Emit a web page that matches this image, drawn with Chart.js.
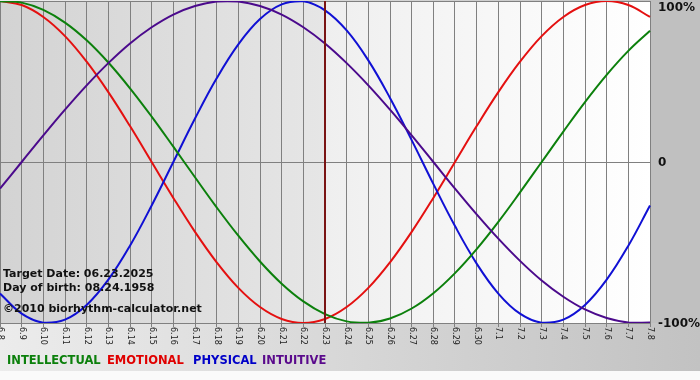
<!DOCTYPE html>
<html>
<head>
<meta charset="utf-8">
<script src="https://cdn.jsdelivr.net/npm/chart.js@4.4.1/dist/chart.umd.min.js"></script>
<style>
  body { margin: 0; background: #fff; }
  canvas { display: block; }
</style>
</head>
<body>
<canvas id="grafico" width="700" height="380"></canvas>
<script>
// Fechas del eje X (mes.día)
const fechas = ['6.8', '6.9', '6.10', '6.11', '6.12', '6.13', '6.14', '6.15', '6.16', '6.17', '6.18',
  '6.19', '6.20', '6.21', '6.22', '6.23', '6.24', '6.25', '6.26', '6.27', '6.28', '6.29', '6.30',
  '7.1', '7.2', '7.3', '7.4', '7.5', '7.6', '7.7', '7.8'];

// Valores (-1 a 1)
const intelectual = [0.999, 0.990, 0.945, 0.866, 0.756, 0.618, 0.458, 0.282, 0.095, -0.095, -0.282,
  -0.458, -0.618, -0.756, -0.866, -0.945, -0.990, -0.999, -0.972, -0.910, -0.815, -0.690, -0.541,
  -0.372, -0.189, 0.000, 0.189, 0.372, 0.541, 0.690, 0.815];
const emocional = [1.000, 0.975, 0.901, 0.782, 0.623, 0.434, 0.223, 0.000, -0.223, -0.434, -0.623,
  -0.782, -0.901, -0.975, -1.000, -0.975, -0.901, -0.782, -0.623, -0.434, -0.223, 0.000, 0.223,
  0.434, 0.623, 0.782, 0.901, 0.975, 1.000, 0.975, 0.901];
const fisico = [-0.817, -0.942, -0.998, -0.979, -0.888, -0.731, -0.520, -0.270, 0.000, 0.270, 0.520,
  0.731, 0.888, 0.979, 0.998, 0.942, 0.817, 0.631, 0.398, 0.136, -0.136, -0.398, -0.631,
  -0.817, -0.942, -0.998, -0.979, -0.888, -0.731, -0.520, -0.270];
const intuitivo = [-0.165, 0.000, 0.165, 0.325, 0.476, 0.614, 0.736, 0.837, 0.916, 0.969, 0.997,
  0.997, 0.969, 0.916, 0.837, 0.736, 0.614, 0.476, 0.325, 0.165, 0.000, -0.165, -0.325,
  -0.476, -0.614, -0.736, -0.837, -0.916, -0.969, -0.997, -0.997];

// Etiquetas del eje Y y leyenda
const etiquetasY = [[1, '100%'], [0, '0'], [-1, '-100%']];
const leyenda = [['INTELLECTUAL', '#0c800c', 7], ['EMOTIONAL', '#e00000', 107],
  ['PHYSICAL', '#0000c8', 193], ['INTUITIVE', '#5a0a8c', 262]];
const textos = ['Target Date: 06.23.2025', 'Day of birth: 08.24.1958', '©2010 biorhythm-calculator.net'];
const indiceObjetivo = 15; // 6.23

const pluginFondo = {
  id: 'fondo',
  beforeDraw(chart) {
    const ctx = chart.ctx;
    const a = chart.chartArea;
    const xObj = chart.scales.x.getPixelForValue(indiceObjetivo);
    ctx.save();
    // parte de abajo
    let g = ctx.createLinearGradient(0, 0, 700, 0);
    g.addColorStop(0, '#ececec');
    g.addColorStop(1, '#c2c2c2');
    ctx.fillStyle = g;
    ctx.fillRect(0, 0, 700, 380);
    ctx.fillStyle = '#fafafa';
    ctx.fillRect(0, 371, 700, 9);
    // panel derecho
    ctx.fillStyle = '#c0c0c0';
    ctx.fillRect(a.right, 0, 700 - a.right, a.bottom);
    // días pasados
    g = ctx.createLinearGradient(a.left, 0, xObj, 0);
    g.addColorStop(0, '#d3d3d3');
    g.addColorStop(1, '#e6e6e6');
    ctx.fillStyle = g;
    ctx.fillRect(a.left, a.top, xObj - a.left, a.bottom - a.top);
    // días futuros
    g = ctx.createLinearGradient(xObj, 0, a.right, 0);
    g.addColorStop(0, '#efefef');
    g.addColorStop(1, '#ffffff');
    ctx.fillStyle = g;
    ctx.fillRect(xObj, a.top, a.right - xObj, a.bottom - a.top);
    ctx.restore();
  },
  afterDatasetsDraw(chart) {
    const ctx = chart.ctx;
    const a = chart.chartArea;
    const xObj = chart.scales.x.getPixelForValue(indiceObjetivo);
    ctx.save();
    // línea de la fecha objetivo
    ctx.strokeStyle = '#7a1414';
    ctx.lineWidth = 2;
    ctx.beginPath();
    ctx.moveTo(xObj, a.top);
    ctx.lineTo(xObj, a.bottom);
    ctx.stroke();
    // textos
    ctx.fillStyle = '#111';
    ctx.font = 'bold 11px "DejaVu Sans"';
    ctx.textBaseline = 'alphabetic';
    ctx.fillText(textos[0], 3, 277);
    ctx.fillText(textos[1], 3, 291);
    ctx.fillText(textos[2], 3, 312);
    ctx.restore();
  },
  afterDraw(chart) {
    const ctx = chart.ctx;
    const a = chart.chartArea;
    const escalaX = chart.scales.x;
    const escalaY = chart.scales.y;
    ctx.save();
    // etiquetas X giradas
    ctx.fillStyle = '#222';
    ctx.font = '8px "DejaVu Sans"';
    ctx.textAlign = 'left';
    ctx.textBaseline = 'middle';
    fechas.forEach((f, i) => {
      ctx.save();
      ctx.translate(escalaX.getPixelForValue(i), a.bottom + 4);
      ctx.rotate(Math.PI / 2);
      ctx.fillText(f, 0, 0);
      ctx.restore();
    });
    // etiquetas Y
    ctx.fillStyle = '#111';
    ctx.font = 'bold 12px "DejaVu Sans"';
    ctx.textBaseline = 'middle';
    etiquetasY.forEach(([v, t]) => {
      let y = escalaY.getPixelForValue(v);
      if (v === 1) y += 6;
      ctx.fillText(t, a.right + 8, y + 1);
    });
    // leyenda
    ctx.font = 'bold 11.5px "DejaVu Sans"';
    ctx.textBaseline = 'middle';
    leyenda.forEach(([t, c, x]) => {
      ctx.fillStyle = c;
      ctx.fillText(t, x, 361);
    });
    ctx.restore();
  }
};

function crearGrafico() {
  const ctx = document.getElementById('grafico').getContext('2d');
  const serie = (datos, color) => ({
    data: datos,
    borderColor: color,
    borderWidth: 2,
    pointRadius: 0,
    tension: 0.4,
    fill: false
  });
  new Chart(ctx, {
    type: 'line',
    data: {
      labels: fechas,
      datasets: [
        serie(intuitivo, '#4b0a8c'),
        serie(intelectual, '#0c800c'),
        serie(fisico, '#1010d4'),
        serie(emocional, '#e41010')
      ]
    },
    options: {
      responsive: false,
      animation: false,
      layout: { padding: { left: 0, right: 0, top: 1, bottom: 0 } },
      plugins: { legend: { display: false }, tooltip: { enabled: false } },
      scales: {
        x: {
          offset: false,
          grid: { color: '#808080', lineWidth: 1, tickLength: 4 },
          border: { color: '#808080' },
          ticks: { display: false },
          afterFit: (s) => { s.height = 57; }
        },
        y: {
          position: 'right',
          min: -1,
          max: 1,
          grid: { color: '#808080', lineWidth: 1, drawTicks: false },
          border: { color: '#808080' },
          ticks: { display: false, stepSize: 1 },
          afterFit: (s) => { s.width = 50; }
        }
      }
    },
    plugins: [pluginFondo]
  });
}

crearGrafico();
</script>
</body>
</html>
